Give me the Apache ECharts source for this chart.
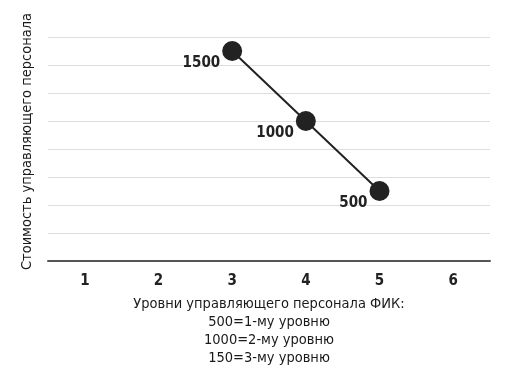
<!DOCTYPE html>
<html><head><meta charset="utf-8">
<script src="https://cdn.jsdelivr.net/npm/echarts@6/dist/echarts.min.js"></script>
<style>html,body{margin:0;padding:0;background:#fff}#c{width:511px;height:374px}</style>
</head><body><div id="c"></div>
<script>
const categories = ['1','2','3','4','5','6'];
const costValues = [null, null, 1500, 1000, 500, null];
const yMin = 0, yMax = 1600, yInterval = 200;
const yAxisTitle = 'Стоимость управляющего персонала';
const xAxisTitle = 'Уровни управляющего персонала ФИК:\n500=1-му уровню\n1000=2-му уровню\n150=3-му уровню';
const FONT = '"DejaVu Sans Condensed",sans-serif';
const chart = echarts.init(document.getElementById('c'));
chart.setOption({
  animation:false,
  grid:{left:48,right:21,top:37,bottom:113,containLabel:false,outerBoundsMode:'none'},
  xAxis:{type:'category',data:categories,boundaryGap:true,
    axisLine:{lineStyle:{color:'#555',width:2}},axisTick:{show:false},
    axisLabel:{color:'#222',fontFamily:FONT,fontSize:15,fontWeight:'bold',margin:13},
    name:xAxisTitle,nameLocation:'middle',nameGap:34,
    nameTextStyle:{color:'#1a1a1a',fontFamily:FONT,fontSize:14.5,fontWeight:'normal',lineHeight:18,verticalAlign:'top',align:'center'}},
  yAxis:{type:'value',min:yMin,max:yMax,interval:yInterval,
    axisLine:{show:false},axisTick:{show:false},axisLabel:{show:false},
    splitLine:{lineStyle:{color:'#ddd',width:1}},
    name:yAxisTitle,nameLocation:'middle',nameGap:13,
    nameTextStyle:{color:'#1a1a1a',fontFamily:FONT,fontSize:14.5,fontWeight:'normal',padding:[0,0,0,15]}},
  series:[{type:'line',data:costValues,connectNulls:false,
    symbol:'circle',symbolSize:20,
    itemStyle:{color:'#222'},lineStyle:{color:'#222',width:2},
    label:{show:true,position:'left',offset:[0,12],distance:2,color:'#222',fontFamily:FONT,fontSize:15,fontWeight:'bold'}}]
});
</script></body></html>
